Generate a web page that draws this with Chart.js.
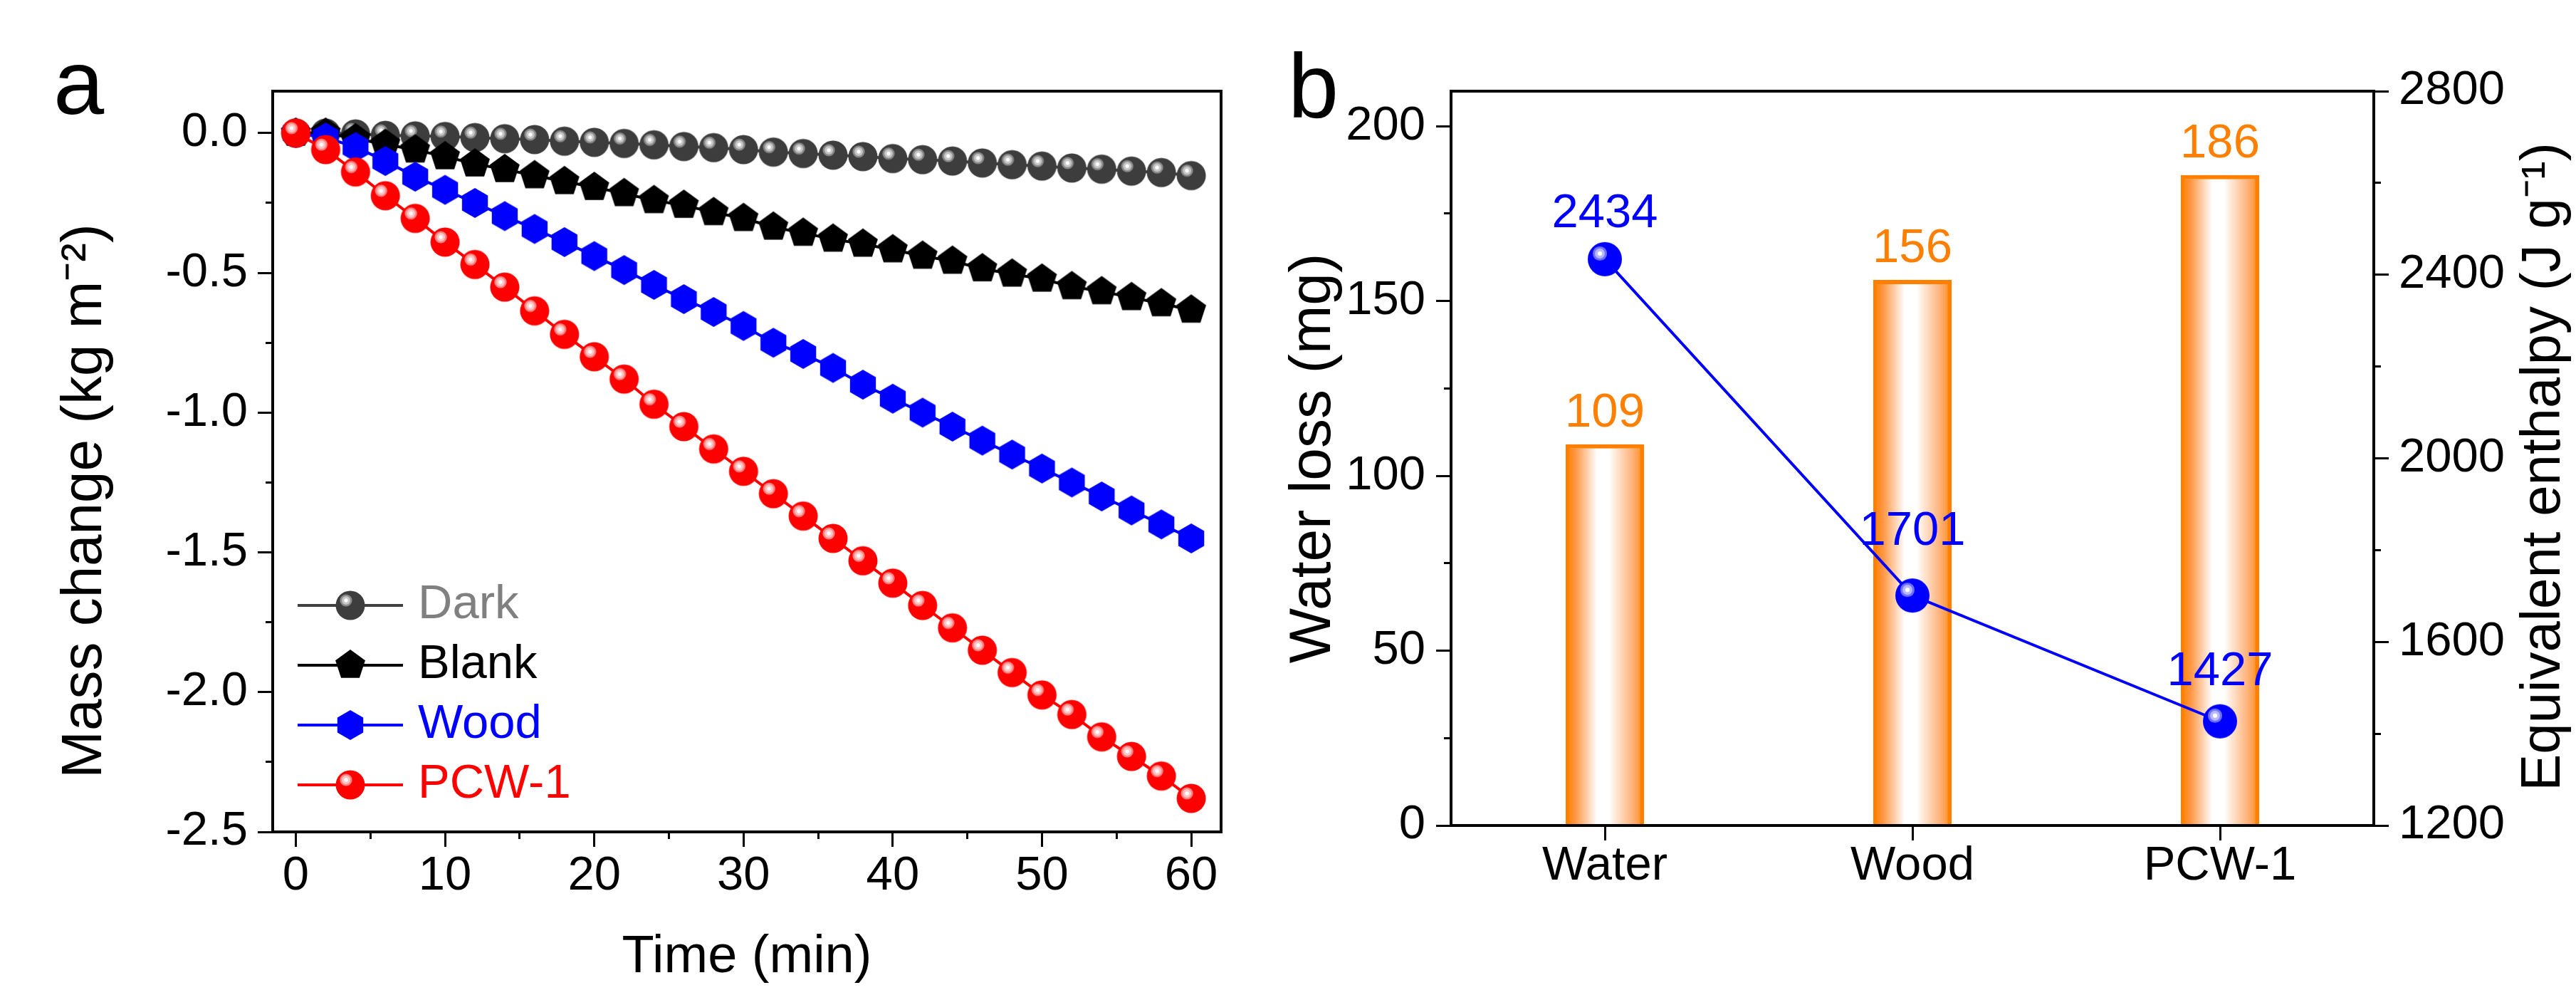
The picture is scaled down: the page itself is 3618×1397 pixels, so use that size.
<!DOCTYPE html>
<html>
<head>
<meta charset="utf-8">
<script src="https://cdn.jsdelivr.net/npm/chart.js@4.4.1/dist/chart.umd.min.js"></script>
<style>
html,body{margin:0;padding:0;background:#fff;width:3618px;height:1397px;overflow:hidden}
canvas{position:absolute;top:0}
#ca{left:0}
#cb{left:1800px}
</style>
</head>
<body>
<canvas id="ca" width="1800" height="1397" style="width:1800px;height:1397px"></canvas>
<canvas id="cb" width="1818" height="1397" style="width:1818px;height:1397px"></canvas>
<script>
// ---------- Panel a data ----------
const timeMin = [0, 2, 4, 6, 8, 10, 12, 14, 16, 18, 20, 22, 24, 26, 28, 30, 32, 34, 36, 38, 40, 42, 44, 46, 48, 50, 52, 54, 56, 58, 60];
const darkMass = [0, 0.00, -0.003, -0.008, -0.010, -0.012, -0.016, -0.020, -0.023, -0.029, -0.033, -0.037, -0.042, -0.048, -0.052, -0.059, -0.068, -0.073, -0.079, -0.084, -0.091, -0.095, -0.100, -0.107, -0.113, -0.118, -0.125, -0.129, -0.136, -0.141, -0.152];
const blankMass = [0, 0.00, -0.02, -0.04, -0.06, -0.084, -0.11, -0.13, -0.152, -0.173, -0.194, -0.216, -0.241, -0.258, -0.284, -0.305, -0.336, -0.358, -0.379, -0.397, -0.417, -0.44, -0.458, -0.485, -0.504, -0.522, -0.549, -0.567, -0.588, -0.61, -0.633];
const woodMass = [0, -0.016, -0.05, -0.10, -0.156, -0.203, -0.25, -0.297, -0.343, -0.39, -0.44, -0.49, -0.543, -0.594, -0.64, -0.69, -0.75, -0.79, -0.84, -0.90, -0.95, -1.00, -1.05, -1.10, -1.15, -1.20, -1.25, -1.30, -1.35, -1.40, -1.45];
const pcwMass = [0, -0.059, -0.139, -0.224, -0.305, -0.39, -0.47, -0.551, -0.636, -0.72, -0.80, -0.88, -0.97, -1.05, -1.13, -1.21, -1.29, -1.37, -1.45, -1.53, -1.61, -1.69, -1.77, -1.85, -1.93, -2.01, -2.08, -2.16, -2.23, -2.30, -2.38];
const aSeriesNames = ['Dark', 'Blank', 'Wood', 'PCW-1'];
const aXTicks = [0, 5, 10, 15, 20, 25, 30, 35, 40, 45, 50, 55, 60];
const aXLabels = [0, 10, 20, 30, 40, 50, 60];
const aYTicks = [-2.5, -2.25, -2, -1.75, -1.5, -1.25, -1, -0.75, -0.5, -0.25, 0];
const aYLabels = [-2.5, -2, -1.5, -1, -0.5, 0];

// ---------- Panel b data ----------
const bCategories = ['Water', 'Wood', 'PCW-1'];
const waterLoss = [109, 156, 186];
const enthalpy = [2434, 1701, 1427];
const bYTicks = [0, 25, 50, 75, 100, 125, 150, 175, 200];
const bYLabels = [0, 50, 100, 150, 200];
const bY1Ticks = [1200, 1400, 1600, 1800, 2000, 2200, 2400, 2600, 2800];
const bY1Labels = [1200, 1600, 2000, 2400, 2800];

// ---------- styles ----------
const FF = "'Liberation Sans', Arial, Helvetica, sans-serif";
Chart.defaults.font.family = FF;
Chart.defaults.color = '#000';

function makeSphere(base, rings, r, ox, oy) {
  const s = Math.ceil(r) * 2 + 4;
  const c = document.createElement('canvas');
  c.width = s; c.height = s;
  const g = c.getContext('2d');
  const m = s / 2;
  g.fillStyle = base;
  g.beginPath(); g.arc(m, m, r, 0, Math.PI * 2); g.fill();
  const radii = [r * 0.42, r * 0.29, r * 0.13];
  rings.forEach((col, k) => {
    g.fillStyle = col;
    g.beginPath(); g.arc(m + ox, m + oy, radii[k], 0, Math.PI * 2); g.fill();
  });
  return c;
}
function makePoly(color, n, R) {
  const s = Math.ceil(R) * 2 + 4;
  const c = document.createElement('canvas');
  c.width = s; c.height = s;
  const g = c.getContext('2d');
  const m = s / 2;
  g.fillStyle = color;
  g.beginPath();
  for (let k = 0; k < n; k++) {
    const a = -Math.PI / 2 + k * 2 * Math.PI / n;
    const px = m + R * Math.cos(a), py = m + R * Math.sin(a);
    if (k === 0) g.moveTo(px, py); else g.lineTo(px, py);
  }
  g.closePath(); g.fill();
  return c;
}
const darkPt = makeSphere('#3d3d3d', ['#8a8a8a', '#c6c6c6', '#ffffff'], 20.5, -6, -7);
const blankPt = makePoly('#000000', 5, 22);
const woodPt = makePoly('#0000ff', 6, 21);
const pcwPt = makeSphere('#ff0000', ['#ff8585', '#ffc4c4', '#ffffff'], 20.5, -6, -7);
const bluePt = makeSphere('#0000ff', ['#7070ff', '#b8b8ff', '#ffffff'], 24, -7, -8);
const aLineColors = ['#404040', '#000000', '#0000ff', '#ff0000'];
const aTextColors = ['#808080', '#000000', '#0000ff', '#ff0000'];
const aPoints = [darkPt, blankPt, woodPt, pcwPt];
const aOrders = [4, 3, 2, 1];
const lineLabelOffsets = [45, 71, 51];

const framePlugin = {
  id: 'frame',
  afterDraw(chart) {
    const {ctx, chartArea: a} = chart;
    ctx.save();
    ctx.strokeStyle = '#000'; ctx.lineWidth = 4;
    ctx.strokeRect(a.left, a.top, a.right - a.left, a.bottom - a.top);
    ctx.restore();
  }
};
function letterPlugin(letter, x, y) {
  return {
    id: 'letter' + letter,
    afterDraw(chart) {
      const ctx = chart.ctx;
      ctx.save();
      ctx.font = '128px ' + FF; ctx.fillStyle = '#000';
      ctx.textBaseline = 'alphabetic'; ctx.textAlign = 'left';
      ctx.fillText(letter, x, y);
      ctx.restore();
    }
  };
}
const insideLegend = {
  id: 'insideLegend',
  afterDatasetsDraw(chart) {
    const {ctx, chartArea: a} = chart;
    const ds = chart.data.datasets;
    ctx.save();
    ctx.font = '67px ' + FF; ctx.textBaseline = 'middle'; ctx.textAlign = 'left';
    ds.forEach((d, i) => {
      const y = a.bottom - 66 - (ds.length - 1 - i) * 84;
      const x0 = a.left + 35;
      ctx.strokeStyle = d.borderColor; ctx.lineWidth = 4;
      ctx.beginPath(); ctx.moveTo(x0, y); ctx.lineTo(x0 + 148, y); ctx.stroke();
      const img = d.pointStyle;
      ctx.drawImage(img, x0 + 74 - img.width / 2, y - img.height / 2);
      ctx.fillStyle = aTextColors[i];
      ctx.fillText(d.label, x0 + 169, y);
    });
    ctx.restore();
  }
};

function gridOpts(labels, minorDash) {
  return {
    display: true, drawOnChartArea: false, drawTicks: true,
    tickLength: 21, tickWidth: 3, tickColor: '#000',
    tickBorderDash: (c) => (c.tick && !labels.includes(c.tick.value)) ? minorDash : []
  };
}
const borderOpts = {display: true, width: 4, color: '#000'};

// ---------- Chart a ----------
new Chart(document.getElementById('ca'), {
  type: 'line',
  data: {
    datasets: aSeriesNames.map((name, i) => ({
      label: name,
      data: timeMin.map((t, k) => ({x: t, y: [darkMass, blankMass, woodMass, pcwMass][i][k]})),
      borderColor: aLineColors[i],
      backgroundColor: aLineColors[i],
      borderWidth: 4,
      pointStyle: aPoints[i],
      pointRadius: 20,
      tension: 0,
      fill: false,
      order: aOrders[i],
      clip: false
    }))
  },
  options: {
    responsive: false, animation: false, devicePixelRatio: 1,
    layout: {padding: {left: 0, top: 128, right: 85, bottom: 0}},
    plugins: {legend: {display: false}, tooltip: {enabled: false}},
    scales: {
      x: {
        type: 'linear', min: -1.55, max: 62, bounds: 'data',
        afterBuildTicks: (s) => { s.ticks = aXTicks.map(v => ({value: v})); },
        afterFit: (s) => { s.height = 229; },
        border: borderOpts,
        grid: gridOpts(aXLabels, [8, 100]),
        ticks: {autoSkip: false, maxRotation: 0, minRotation: 0, padding: 5, color: '#000',
          font: {size: 67, lineHeight: 1.1},
          callback: (v) => aXLabels.includes(v) ? String(v) : ''},
        title: {display: true, text: 'Time (min)', color: '#000', font: {size: 74, lineHeight: 1.2}, padding: {top: 0, bottom: 8}}
      },
      y: {
        type: 'linear', min: -2.5, max: 0.15, bounds: 'data',
        afterBuildTicks: (s) => { s.ticks = aYTicks.map(v => ({value: v})); },
        afterFit: (s) => { s.width = 383; },
        border: borderOpts,
        grid: gridOpts(aYLabels, [0, 11, 8, 100]),
        ticks: {autoSkip: false, padding: 14, color: '#000', font: {size: 67},
          callback: (v) => aYLabels.includes(v) ? v.toFixed(1) : ''},
        title: {display: true, text: 'Mass change (kg m\u207B\u00B2)     ', color: '#000', font: {size: 80, lineHeight: 1}, padding: {top: 80, bottom: 0}}
      }
    }
  },
  plugins: [framePlugin, insideLegend, letterPlugin('a', 75, 160)]
});

// ---------- Chart b ----------
const barPct = 0.255;
function barGradient(c) {
  const chart = c.chart;
  const xs = chart.scales && chart.scales.x;
  if (c.type !== 'data' || !xs || !chart.chartArea) return '#ff9a40';
  const cx = xs.getPixelForValue(c.dataIndex);
  const half = (xs.width / bCategories.length) * barPct / 2;
  const g = chart.ctx.createLinearGradient(cx - half, 0, cx + half, 0);
  g.addColorStop(0, '#ff7f00');
  g.addColorStop(0.12, '#ff9440');
  g.addColorStop(0.40, '#ffffff');
  g.addColorStop(0.55, '#ffffff');
  g.addColorStop(0.85, '#ffb27a');
  g.addColorStop(1, '#ff8a1a');
  return g;
}
const valueLabels = {
  id: 'valueLabels',
  afterDatasetsDraw(chart) {
    const ctx = chart.ctx;
    ctx.save();
    ctx.font = '67px ' + FF; ctx.textAlign = 'center'; ctx.textBaseline = 'alphabetic';
    chart.data.datasets.forEach((ds, di) => {
      const meta = chart.getDatasetMeta(di);
      meta.data.forEach((el, i) => {
        const isBar = ds.type === 'bar';
        ctx.fillStyle = isBar ? '#ff8000' : '#0000ff';
        const off = isBar ? 25 : lineLabelOffsets[i];
        ctx.fillText(String(ds.data[i]), el.x, el.y - off);
      });
    });
    ctx.restore();
  }
};
const rightTitle = {
  id: 'rightTitle',
  afterDraw(chart) {
    const {ctx, chartArea: a} = chart;
    ctx.save();
    ctx.translate(a.right + 239, (a.top + a.bottom) / 2 + 12);
    ctx.rotate(-Math.PI / 2);
    ctx.font = '78px ' + FF; ctx.fillStyle = '#000';
    ctx.textAlign = 'center'; ctx.textBaseline = 'middle';
    ctx.fillText('Equivalent enthalpy (J g\u207B\u00B9)', 0, 0);
    ctx.restore();
  }
};

new Chart(document.getElementById('cb'), {
  type: 'bar',
  data: {
    labels: bCategories,
    datasets: [
      {type: 'line', label: 'Equivalent enthalpy', data: enthalpy, yAxisID: 'y1',
        borderColor: '#0000ff', backgroundColor: '#0000ff', borderWidth: 4,
        pointStyle: bluePt, pointRadius: 24, tension: 0, order: 0, clip: false},
      {type: 'bar', label: 'Water loss', data: waterLoss, yAxisID: 'y',
        backgroundColor: barGradient, borderColor: '#ff8000', borderWidth: 6,
        barPercentage: barPct, categoryPercentage: 1, order: 1}
    ]
  },
  options: {
    responsive: false, animation: false, devicePixelRatio: 1,
    layout: {padding: {left: 0, top: 128, right: 0, bottom: 0}},
    plugins: {legend: {display: false}, tooltip: {enabled: false}},
    scales: {
      x: {
        type: 'category', offset: true,
        afterFit: (s) => { s.height = 238; },
        border: borderOpts,
        grid: {display: true, offset: false, drawOnChartArea: false, drawTicks: true, tickLength: 21, tickWidth: 3, tickColor: '#000'},
        ticks: {autoSkip: false, maxRotation: 0, minRotation: 0, padding: 0, color: '#000', font: {size: 67, lineHeight: 1.1}}
      },
      y: {
        type: 'linear', position: 'left', min: 0, max: 210, bounds: 'data',
        afterBuildTicks: (s) => { s.ticks = bYTicks.map(v => ({value: v})); },
        afterFit: (s) => { s.width = 238; },
        border: borderOpts,
        grid: gridOpts(bYLabels, [0, 11, 8, 100]),
        ticks: {autoSkip: false, padding: 15, color: '#000', font: {size: 67},
          callback: (v) => bYLabels.includes(v) ? String(v) : ''},
        title: {display: true, text: 'Water loss (mg)', color: '#000', font: {size: 82, lineHeight: 1}, padding: {top: 4, bottom: 0}}
      },
      y1: {
        type: 'linear', position: 'right', min: 1200, max: 2800, bounds: 'data',
        afterBuildTicks: (s) => { s.ticks = bY1Ticks.map(v => ({value: v})); },
        afterFit: (s) => { s.width = 284; },
        border: borderOpts,
        grid: gridOpts(bY1Labels, [8, 100]),
        ticks: {autoSkip: false, padding: 14, color: '#000', font: {size: 67},
          callback: (v) => bY1Labels.includes(v) ? String(v) : ''}
      }
    }
  },
  plugins: [framePlugin, valueLabels, rightTitle, letterPlugin('b', 9, 165)]
});
</script>
</body>
</html>
